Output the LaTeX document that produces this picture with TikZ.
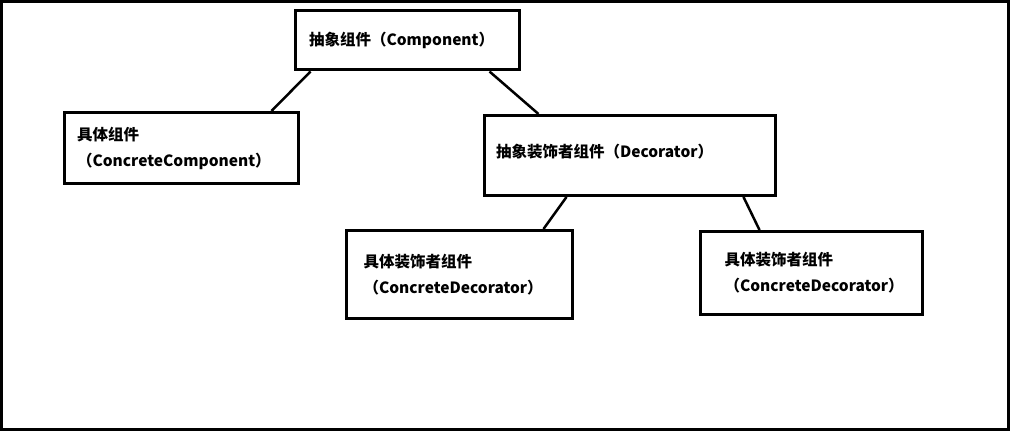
\documentclass[tikz,border=0pt]{standalone}
\usepackage{fontspec}
\setmainfont{Noto Sans CJK SC}
\begin{document}
\begin{tikzpicture}[x=1pt,y=-1pt,
  box/.style={draw=black, line width=3pt, align=left, inner ysep=0pt,
    font=\fontsize{15.5}{26}\selectfont\bfseries},
  link/.style={draw=black, line width=2.5pt}]
\useasboundingbox (0,0) rectangle (1012,433);
\draw[line width=3pt] (1.5,1.5) rectangle (1008.5,429.5);
\node[box, minimum width=224pt, minimum height=59pt, text width=196pt, inner xsep=14pt] (top) at (407,40.5) {抽象组件（Component）};
\node[box, minimum width=234pt, minimum height=71pt, text width=208pt, inner xsep=13pt] (left) at (181,148) {具体组件\\（ConcreteComponent）};
\node[box, minimum width=291pt, minimum height=80pt, text width=267pt, inner xsep=12pt, text depth=9pt] (dec) at (629.5,155.5) {抽象装饰者组件（Decorator）};
\node[box, minimum width=225.5pt, minimum height=88pt, text width=191.5pt, inner xsep=17pt] (cd1) at (459.25,274.5) {具体装饰者组件\\（ConcreteDecorator）};
\node[box, minimum width=221.5pt, minimum height=83pt, text width=173.5pt, inner xsep=24pt] (cd2) at (811.25,273) {具体装饰者组件\\（ConcreteDecorator）};
\draw[link] ([xshift=17pt]top.south west) -- ([xshift=-28pt]left.north east);
\draw[link] ([xshift=-31pt]top.south east) -- ([xshift=56pt]dec.north west);
\draw[link] ([xshift=84pt]dec.south west) -- ([xshift=-30pt]cd1.north east);
\draw[link] ([xshift=-33pt]dec.south east) -- ([xshift=60.5pt]cd2.north west);
\end{tikzpicture}
\end{document}
